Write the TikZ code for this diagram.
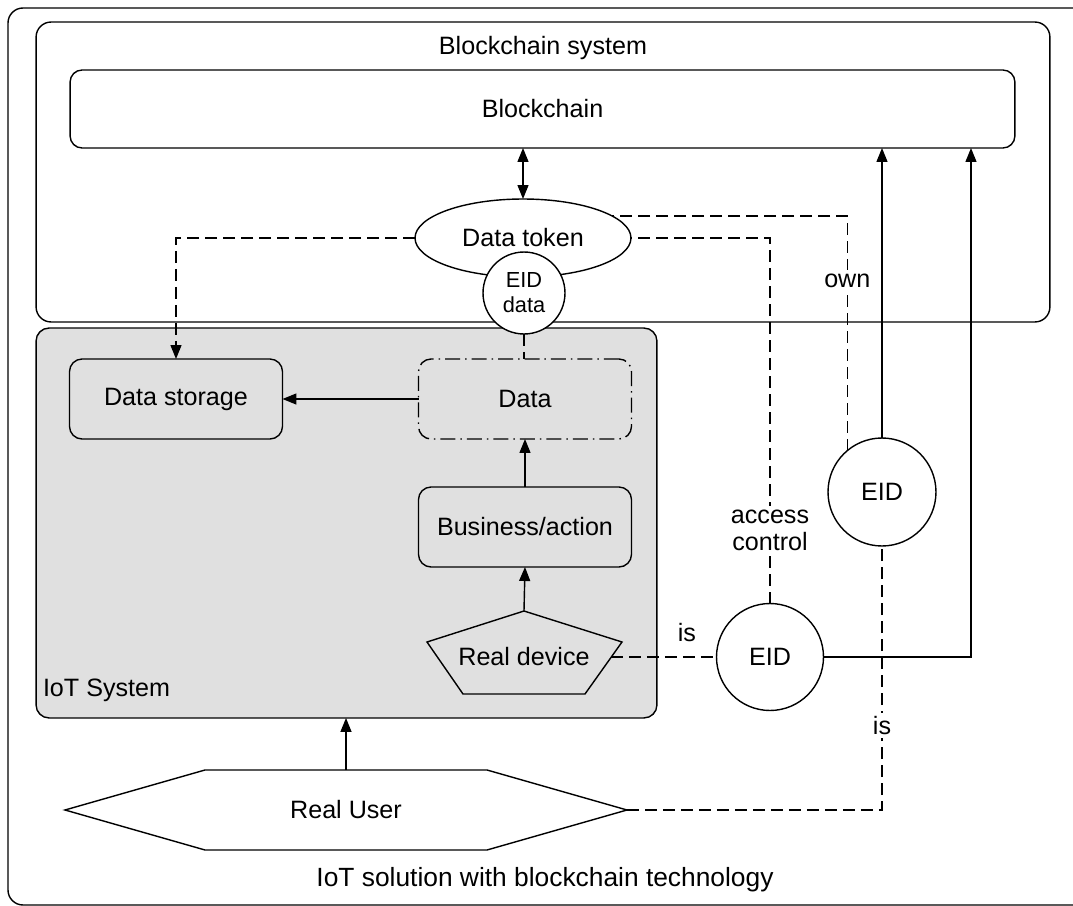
\documentclass[tikz,border=0pt]{standalone}
\usepackage{fontspec}
\setmainfont{Liberation Sans}
\usetikzlibrary{arrows.meta,shapes.geometric}
\definecolor{iotGris}{HTML}{E0E0E0}

\begin{document}
\begin{tikzpicture}[x=0.02cm,y=-0.02cm,line width=0.8pt,
      font=\fontsize{14.3}{15.6}\selectfont,
      every node/.style={align=center,inner sep=0pt,outer sep=0pt},
      caja/.style={draw,rounded corners=0.25cm,minimum width=4.26cm,minimum height=1.6cm},
      circ/.style={draw,circle,fill=white,minimum size=#1},
      flecha/.style={-{Triangle[length=2.8mm,width=2.2mm]}},
      trazo/.style={dash pattern=on 2.4mm off 1.2mm},
      etiq/.style={fill=white,inner sep=2pt}]
    \useasboundingbox (0,0) rectangle (1073,906);
    \begin{scope}
      \clip (0,0) rectangle (1073,906);
      \draw[rounded corners=0.3cm] (8,8) rectangle (1100,905);
    \end{scope}
    \node[draw,rounded corners=0.3cm,minimum width=20.28cm,minimum height=6cm] (bsys) at (543,172) {};
    \node (bsysl) at (543,48) {Blockchain system};
    \node[draw,rounded corners=0.24cm,minimum width=18.9cm,minimum height=1.56cm] (chain) at (542.5,109) {Blockchain};
    \node[draw,fill=iotGris,rounded corners=0.26cm,minimum width=12.42cm,minimum height=7.8cm] (iot) at (346.5,523) {};
    \node[anchor=west] (iotl) at (43,690) {IoT System};
    \node[draw,ellipse,fill=white,minimum width=4.32cm,minimum height=1.56cm] (tok) at (523,238) {Data token};
    \node[circ=1.64cm,font=\fontsize{12.4}{14.2}\selectfont] (eiddata) at (524,293) {EID\\data};
    \node[caja] (store) at (176,399) {Data storage};
    \node[caja,dash pattern=on 3mm off 1mm on 0.3mm off 1mm] (data) at (525,399) {Data};
    \node[caja] (biz) at (525,527) {Business/action};
    \draw (524,611) -- (622,642) -- (585,694) -- (463,694) -- (427,642) -- cycle;
    \coordinate (devN) at (524,611);
    \coordinate (devE) at (611,657);
    \node (dev) at (524,657) {Real device};
    \draw (65,810) -- (205,770) -- (487,770) -- (627,810) -- (487,850) -- (205,850) -- cycle;
    \coordinate (userN) at (346,770);
    \coordinate (userE) at (627,810);
    \node (user) at (346,810) {Real User};
    \node[circ=2.14cm] (eidL) at (770,657) {EID};
    \node[circ=2.16cm] (eidU) at (882,492) {EID};
    \coordinate (chainIn) at (971,148);
    \node[font=\fontsize{15}{17}\selectfont] (cap) at (545,880) {IoT solution with blockchain technology};

    \draw[{Triangle[length=2.8mm,width=2.2mm]}-{Triangle[length=2.8mm,width=2.2mm]}] (tok.north) -- (tok.north |- chain.south);
    \draw[trazo,flecha] (tok.west) -| (store.north);
    \draw[trazo] (eiddata.south) -- (eiddata.south |- data.north);
    \draw[flecha] (data.west) -- (store.east);
    \draw[flecha] (biz.north) -- (data.south);
    \draw[flecha] (devN) -- (biz.south);
    \draw[flecha] (userN) -- (userN |- iot.south);
    \draw[trazo] (devE) -- node[pos=0.72,above=0.3cm] {is} (eidL.west);
    \draw[trazo] (eidL.north) |- node[etiq,pos=0.1] {access\\control} (tok.east);
    \draw[trazo] (eidU.130) |- node[etiq,pos=0.362] {own} (tok.14);
    \draw[trazo] (userE) -| node[etiq,pos=0.66] {is} (eidU.south);
    \draw[flecha] (eidU.north) -- (eidU.north |- chain.south);
    \draw[flecha] (eidL.east) -| (chainIn);
\end{tikzpicture}
\end{document}
